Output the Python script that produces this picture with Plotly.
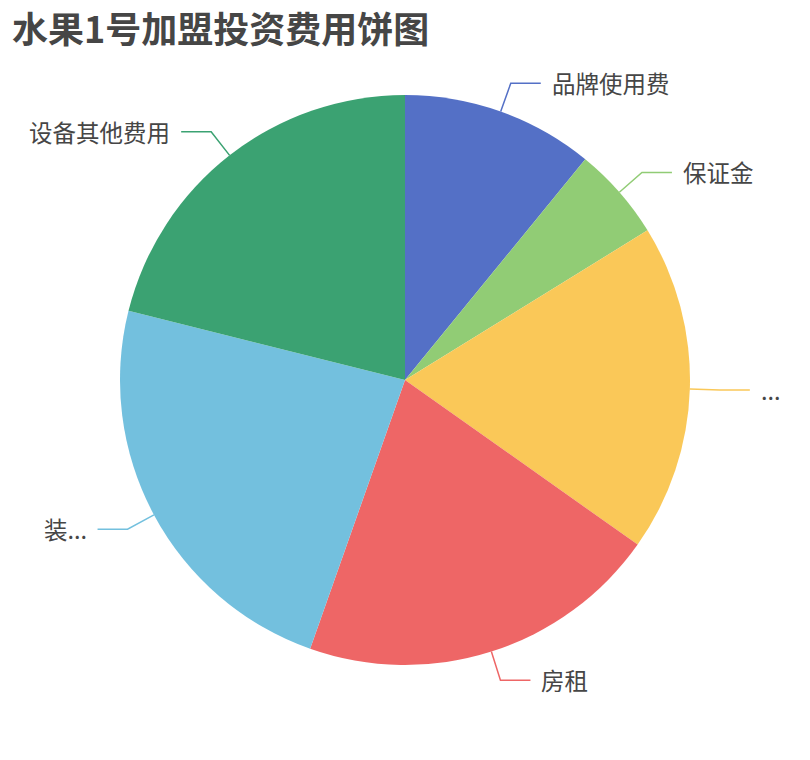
import math
import plotly.graph_objects as go

# Data (share of total, %)
categories = ['品牌使用费', '保证金', '...', '房租', '装...', '设备其他费用']
values = [10.9, 5.3, 18.6, 20.6, 23.5, 21.1]
colors = ['#5470c6', '#91cc75', '#fac858', '#ee6666', '#73c0de', '#3ba272']

# page body has an 8px margin, so the figure is drawn 8px smaller and offset
OFF = 8
W, H = 810 - OFF, 760 - OFF
cx, cy, r = 405 - OFF, 380 - OFF, 285   # pie centre / radius in pixels
len1, len2, gap = 30, 30, 9  # label line segments


def px(x):
    return x / W


def py(y):
    return 1 - y / H


fig = go.Figure(go.Pie(
    labels=categories,
    values=values,
    marker=dict(colors=colors, line=dict(width=0)),
    sort=False,
    direction='clockwise',
    rotation=0,
    textinfo='none',
    hoverinfo='label+value+percent',
    showlegend=False,
    domain=dict(x=[(cx - r) / W, (cx + r) / W], y=[(H - cy - r) / H, (H - cy + r) / H]),
))

# leader lines + labels, placed from each slice's mid angle
total = sum(values)
cum = 0
shapes, annotations = [], []
for name, v, c in zip(categories, values, colors):
    mid = (cum + v / 2) / total * 2 * math.pi
    cum += v
    s, co = math.sin(mid), -math.cos(mid)
    x0, y0 = cx + r * s, cy + r * co
    x1, y1 = cx + (r + len1) * s, cy + (r + len1) * co
    side = 1 if s >= 0 else -1
    x2 = x1 + side * len2
    shapes.append(dict(
        type='path', xref='paper', yref='paper',
        path=f'M {px(x0)} {py(y0)} L {px(x1)} {py(y1)} L {px(x2)} {py(y1)}',
        line=dict(color=c, width=1.5),
    ))
    annotations.append(dict(
        x=px(x2 + side * gap), y=py(y1), xref='paper', yref='paper',
        text=name, showarrow=False,
        xanchor='left' if side > 0 else 'right', yanchor='middle',
        font=dict(size=23.5, color='#464646'),
    ))

# title
annotations.append(dict(
    x=px(10 - OFF), y=py(27 - OFF), xref='paper', yref='paper',
    text='<b>水果1号加盟投资费用饼图</b>', showarrow=False,
    xanchor='left', yanchor='middle',
    font=dict(size=36, color='#464646'),
))

fig.update_layout(
    width=W, height=H,
    margin=dict(l=0, r=0, t=0, b=0),
    paper_bgcolor='white',
    font=dict(family='Noto Sans CJK SC, sans-serif'),
    shapes=shapes,
    annotations=annotations,
)

fig.write_html('out.html')
